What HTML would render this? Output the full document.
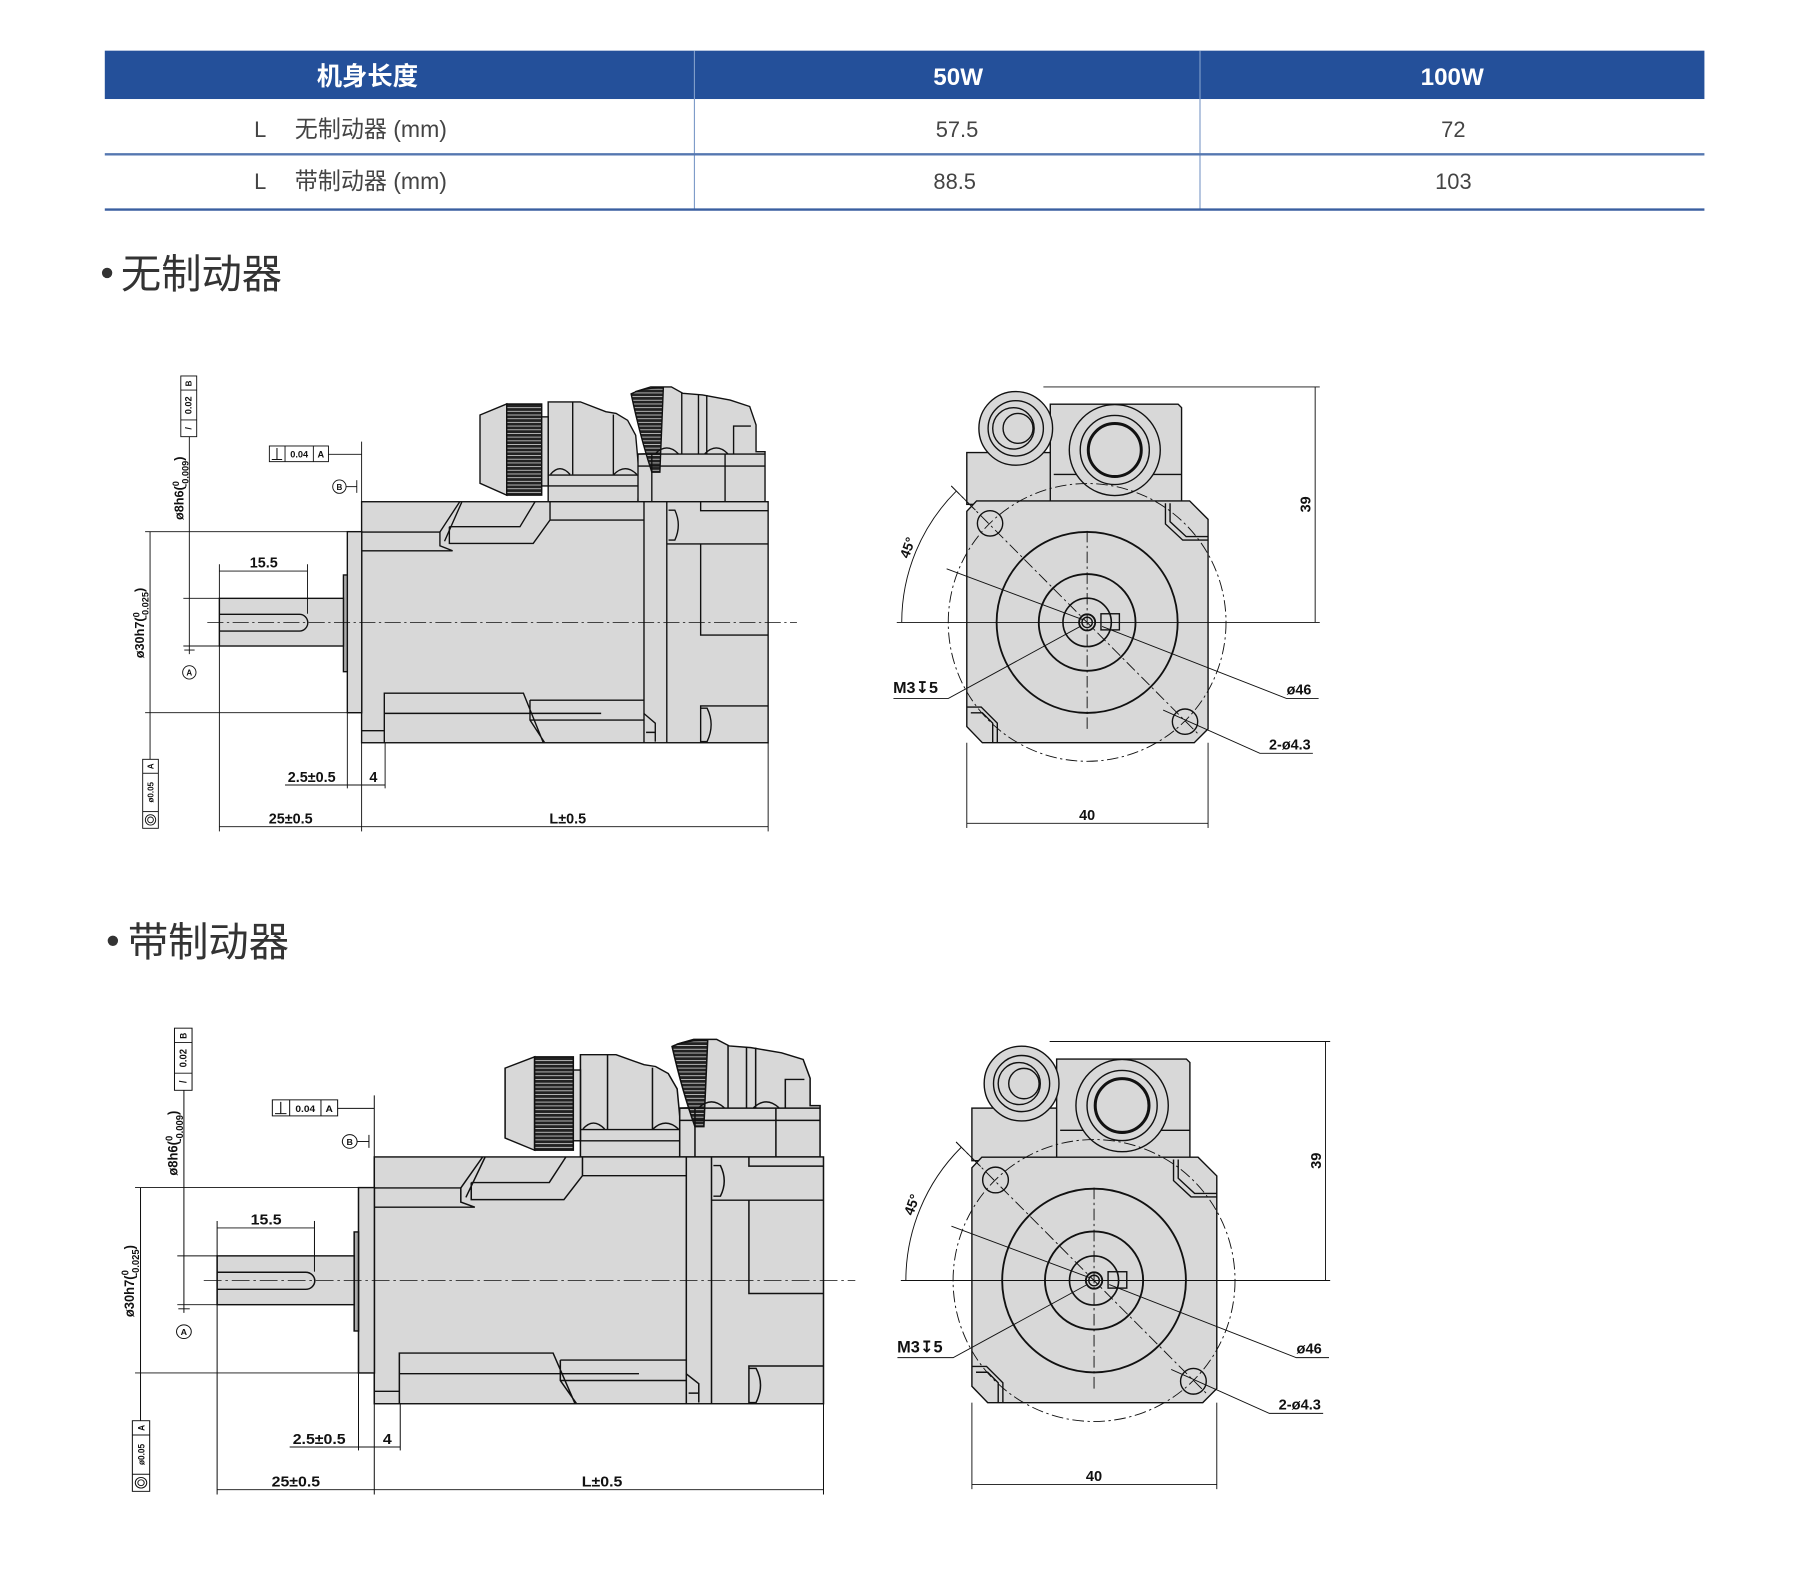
<!DOCTYPE html>
<html><head><meta charset="utf-8">
<style>
html,body{margin:0;padding:0;background:#fff;}
svg{display:block;}
.t{font-family:"Liberation Sans Narrow","Liberation Sans","DejaVu Sans",sans-serif;font-weight:bold;fill:#111;stroke:none;}
</style></head>
<body>
<svg width="1800" height="1573" viewBox="0 0 1563 1366" preserveAspectRatio="none" xmlns="http://www.w3.org/2000/svg">
<defs>
<pattern id="gear" width="6" height="3.2" patternUnits="userSpaceOnUse">
<rect width="6" height="3.2" fill="#222"/><rect y="1.6" width="6" height="0.8" fill="#bbb"/>
</pattern>

<g id="side" stroke="#111" stroke-width="1.2" fill="none">
 <polygon points="476,435.7 476,349 504,349 526,357.5 535,359 545,365 552,378 555,412 554,435.7" fill="#d8d8d8"/>
 <polygon points="554,435.7 554,394.3 563,394 555,362 550,350 552,340 565,336 583,336 593,341.6 610,343 634,347.4 651,353 656.5,369 656.5,392.2 664.3,392.2 664.3,435.7" fill="#d8d8d8"/>
 <polygon points="416.8,360.4 440,350.8 440,430 416.8,419.7" fill="#d8d8d8"/>
 <rect x="440" y="350.8" width="30.4" height="79.2" fill="url(#gear)"/>
 <rect x="470.4" y="362" width="5.6" height="60" fill="#d8d8d8"/>
 <path d="M548 342 Q560 336 576 337 L573 410 L566 410 Q556 380 548 342 Z" fill="url(#gear)"/>
 <line x1="476" y1="412.5" x2="554" y2="412.5"/>
 <line x1="476" y1="422" x2="554" y2="422"/>
 <line x1="554" y1="394.3" x2="664.3" y2="394.3"/>
 <line x1="554" y1="404.7" x2="664.3" y2="404.7"/>
 <line x1="566" y1="394" x2="566" y2="435.7"/>
 <line x1="629.6" y1="394" x2="629.6" y2="435.7"/>
 <line x1="497.3" y1="349" x2="497.3" y2="412"/>
 <line x1="532.6" y1="360" x2="532.6" y2="412"/>
 <line x1="592" y1="341" x2="592" y2="394"/>
 <line x1="606.5" y1="343" x2="606.5" y2="394"/>
 <line x1="613.7" y1="343" x2="613.7" y2="394"/>
 <path d="M637 394 V370 H652"/>
 <path d="M478 412 Q486 402 495 412 M533 412 Q543 402 553 412 M569 394 Q579 384 589 394 M612 394 Q622 384 632 394"/>
 <rect x="314" y="435.7" width="353" height="209.3" fill="#d8d8d8"/>
 <rect x="301.6" y="461.7" width="12.5" height="157.2" fill="#d8d8d8"/>
 <rect x="298.2" y="499.3" width="3.4" height="84" fill="#aaa"/>
 <rect x="190.5" y="519.6" width="107.7" height="41.4" fill="#d8d8d8"/>
 <path d="M190.5 533.5 H260 A7.25 7.25 0 0 1 260 548 H190.5"/>
 <line x1="559.2" y1="435.7" x2="559.2" y2="645"/>
 <line x1="579" y1="435.7" x2="579" y2="645"/>
 <path d="M608.4 435.7 V443.5 H667"/>
 <path d="M579 472.4 H667 M608.4 472.4 V551.5 H667 M667 613 H608.4 V645"/>
 <path d="M580.5 443 H586 Q592 456 586 469 H580.5"/>
 <path d="M608.5 615 H614 Q621 629 614 644 H608.5"/>
 <path d="M314 462 H382 V474 L393 478.3 H314"/>
 <path d="M382 462 L399 436 M386 470 L401 436"/>
 <path d="M390.2 457.4 H451.5 L464.6 435.7 M390.2 457.4 V471.9 H463 L477.6 451.6 V435.7 M477.6 451.6 H559"/>
 <path d="M333.7 645 V602 H454.5 L471.8 645 M333.7 619.5 H522 M314 634.5 H333.7 M460.2 608 H559 M460.2 608 V625.3 L473 645 M460.2 625.3 H559"/>
 <path d="M559 619.5 L569 628 V644 M561 636 H569"/>
 <line x1="180" y1="540.5" x2="692" y2="540.5" stroke-width="0.7" stroke-dasharray="14 3 2 3"/>
 <g stroke-width="0.8">
  <line x1="130.3" y1="461.7" x2="130.3" y2="659.4"/>
  <line x1="126" y1="461.7" x2="301.6" y2="461.7"/>
  <line x1="126" y1="618.9" x2="314" y2="618.9"/>
  <line x1="164.4" y1="379.2" x2="164.4" y2="568"/>
  <line x1="160" y1="564.5" x2="169" y2="564.5"/>
  <line x1="159.2" y1="519.6" x2="190.5" y2="519.6"/>
  <line x1="159.2" y1="561" x2="190.5" y2="561"/>
  <circle cx="164.4" cy="583.9" r="5.8"/>
  <line x1="190.5" y1="490" x2="190.5" y2="722"/>
  <line x1="267" y1="490" x2="267" y2="533"/>
  <line x1="190.5" y1="495.9" x2="267" y2="495.9"/>
  <line x1="285.2" y1="394.5" x2="314" y2="394.5"/>
  <line x1="314" y1="383.5" x2="314" y2="435.7"/>
  <line x1="314" y1="645" x2="314" y2="722"/>
  <circle cx="294.7" cy="422.6" r="5.8"/>
  <line x1="300.5" y1="422.6" x2="309.8" y2="422.6"/>
  <line x1="309.8" y1="417" x2="309.8" y2="428"/>
  <line x1="301.6" y1="618.9" x2="301.6" y2="684.6"/>
  <line x1="334.4" y1="645" x2="334.4" y2="684.6"/>
  <line x1="247.5" y1="681.7" x2="334.4" y2="681.7"/>
  <line x1="190.5" y1="717.9" x2="667" y2="717.9"/>
  <line x1="667" y1="645" x2="667" y2="722"/>
  <rect x="157" y="326.5" width="13.8" height="52.7" fill="#fff"/>
  <line x1="157" y1="338.7" x2="170.8" y2="338.7"/><line x1="157" y1="364.7" x2="170.8" y2="364.7"/>
  <rect x="233.9" y="387.3" width="51.3" height="13.6" fill="#fff"/>
  <line x1="247.5" y1="387.3" x2="247.5" y2="400.9"/><line x1="272.1" y1="387.3" x2="272.1" y2="400.9"/>
  <rect x="123.9" y="659.4" width="13.6" height="59.9" fill="#fff"/>
  <line x1="123.9" y1="671.5" x2="137.5" y2="671.5"/><line x1="123.9" y1="704.8" x2="137.5" y2="704.8"/>
  <circle cx="130.7" cy="712" r="4.5"/><circle cx="130.7" cy="712" r="2.5"/>
 </g>
 <path d="M236 399 H245 M240.5 389 V399" stroke-width="0.9"/>
 <g class="t" font-size="9">
  <text x="259.8" y="397.5" text-anchor="middle" font-size="8">0.04</text>
  <text x="278.6" y="397.5" text-anchor="middle" font-size="8">A</text>
  <text x="294.7" y="425.5" text-anchor="middle" font-size="7">B</text>
  <text x="164.4" y="586.8" text-anchor="middle" font-size="7">A</text>
  <text transform="translate(166.5,333) rotate(-90)" text-anchor="middle" font-size="7">B</text>
  <text transform="translate(166.5,352) rotate(-90)" text-anchor="middle" font-size="8">0.02</text>
  <text transform="translate(166.5,372) rotate(-90)" text-anchor="middle" font-size="8">/</text>
  <text transform="translate(133.5,665.5) rotate(-90)" text-anchor="middle" font-size="7">A</text>
  <text transform="translate(133.5,688) rotate(-90)" text-anchor="middle" font-size="7">ø0.05</text>
 </g>
 <g class="t" font-size="12.5">
  <text x="229" y="493" text-anchor="middle">15.5</text>
  <text x="270.7" y="679" text-anchor="middle">2.5±0.5</text>
  <text x="324.2" y="679" text-anchor="middle">4</text>
  <text x="252.4" y="715" text-anchor="middle">25±0.5</text>
  <text x="493" y="715" text-anchor="middle">L±0.5</text>
  <text transform="translate(159.5,424) rotate(-90)" text-anchor="middle" font-size="11">ø8h6(<tspan font-size="8" dy="-4">0</tspan><tspan font-size="8" dx="-5" dy="8">-0.009</tspan><tspan dy="-4">)</tspan></text>
  <text transform="translate(125,541) rotate(-90)" text-anchor="middle" font-size="11">ø30h7(<tspan font-size="8" dy="-4">0</tspan><tspan font-size="8" dx="-5" dy="8">-0.025</tspan><tspan dy="-4">)</tspan></text>
 </g>
</g>

<g id="endv" stroke="#111" stroke-width="1.2" fill="none">
 <rect x="839.5" y="393" width="76" height="45" fill="#d8d8d8"/>
 <path d="M912 438 V351 H1023 L1026 354 V438 Z" fill="#d8d8d8"/>
 <line x1="915" y1="412" x2="1026" y2="412"/>
 <circle cx="882" cy="372" r="32" fill="#d8d8d8"/>
 <circle cx="882" cy="372" r="24"/>
 <circle cx="880" cy="372" r="18"/>
 <circle cx="884" cy="372" r="13"/>
 <circle cx="968" cy="390.8" r="39.5" fill="#d8d8d8"/>
 <circle cx="968" cy="390.8" r="30"/>
 <circle cx="968" cy="390.8" r="23" stroke-width="2.6"/>
 <path d="M848 435 H1033 L1049 451 V633 L1037 645 H853 L839.5 631 V444 Z" fill="#d8d8d8"/>
 <path d="M1012 437 V455 L1027 469 H1049 M1016 437 V453 L1030 466 H1049"/>
 <path d="M840 614 H852 L866 628 V645 M843 619 H853 L862 628 V645"/>
 <circle cx="944" cy="540.5" r="78.6" stroke-width="1.6"/>
 <circle cx="944" cy="540.5" r="42" stroke-width="1.6"/>
 <circle cx="944" cy="540.5" r="21" stroke-width="1.4"/>
 <circle cx="944" cy="540.5" r="7" stroke-width="1.6"/>
 <circle cx="944" cy="540.5" r="4.5"/>
 <rect x="956" y="533" width="16" height="14"/>
 <circle cx="944" cy="540.5" r="120.6" stroke-width="0.8" stroke-dasharray="10 3 2 3"/>
 <circle cx="859.7" cy="454.5" r="11"/>
 <circle cx="1029" cy="626.7" r="11"/>
 <g stroke-width="0.8">
  <line x1="778.7" y1="540.5" x2="1146" y2="540.5"/>
  <line x1="944" y1="461" x2="944" y2="635" stroke-dasharray="10 3 2 3"/>
  <line x1="826" y1="422" x2="1040" y2="637" stroke-dasharray="10 3 2 3"/>
  <line x1="826" y1="422" x2="847" y2="443"/>
  <path d="M783 540.5 A161 161 0 0 1 830.2 426.7"/>
  <line x1="822" y1="494" x2="940" y2="538"/>
  <path d="M775.8 606.5 H823.5 L938 544"/>
  <path d="M1145 606.5 H1117 L957 544"/>
  <path d="M1140 654.2 H1094 L1010 616.6"/>
  <line x1="906" y1="336" x2="1146" y2="336"/>
  <line x1="1142" y1="336" x2="1142" y2="540.5"/>
  <line x1="839.5" y1="645" x2="839.5" y2="719"/>
  <line x1="1049" y1="645" x2="1049" y2="719"/>
  <line x1="839.5" y1="715" x2="1049" y2="715"/>
 </g>
 <g class="t" font-size="12.5">
  <text x="944" y="712" text-anchor="middle">40</text>
  <text transform="translate(1138,438) rotate(-90)" text-anchor="middle">39</text>
  <text x="1128" y="603" text-anchor="middle">ø46</text>
  <text x="1120" y="651" text-anchor="middle">2-ø4.3</text>
  <text x="795" y="602" text-anchor="middle" font-size="14">M3↧5</text>
  <text transform="translate(792,477) rotate(-70)" text-anchor="middle" font-size="12">45°</text>
 </g>
</g>
</defs>

<rect x="91" y="44" width="1389" height="42" fill="#24509a"/>
<line x1="603" y1="44" x2="603" y2="182" stroke="#7f9cc9" stroke-width="1"/>
<line x1="1042" y1="44" x2="1042" y2="182" stroke="#7f9cc9" stroke-width="1"/>
<line x1="91" y1="134" x2="1480" y2="134" stroke="#5577b0" stroke-width="2"/>
<line x1="91" y1="182" x2="1480" y2="182" stroke="#3a5fa0" stroke-width="2"/>
<g font-family="'Liberation Sans','Noto Sans CJK SC',sans-serif" text-anchor="middle">
 <text x="319" y="74" font-size="22" font-weight="bold" fill="#fff">机身长度</text>
 <text x="832" y="74" font-size="21" font-weight="bold" fill="#fff">50W</text>
 <text x="1261" y="74" font-size="21" font-weight="bold" fill="#fff">100W</text>
 <text x="831" y="119" font-size="19" fill="#444">57.5</text>
 <text x="1262" y="119" font-size="19" fill="#444">72</text>
 <text x="829" y="164" font-size="19" fill="#444">88.5</text>
 <text x="1262" y="164" font-size="19" fill="#444">103</text>
 <text x="226" y="119" font-size="19" fill="#444">L</text>
 <text x="226" y="164" font-size="19" fill="#444">L</text>
 <text x="256" y="119" font-size="20" fill="#444" text-anchor="start">无制动器 (mm)</text>
 <text x="256" y="164" font-size="20" fill="#444" text-anchor="start">带制动器 (mm)</text>
</g>

<circle cx="93" cy="237" r="4.5" fill="#333"/>
<text x="105" y="250" font-family="'Liberation Sans','Noto Sans CJK SC',sans-serif" font-size="35" fill="#333">无制动器</text>
<circle cx="98" cy="817" r="4.5" fill="#333"/>
<text x="111" y="830" font-family="'Liberation Sans','Noto Sans CJK SC',sans-serif" font-size="35" fill="#333">带制动器</text>

<use href="#side"/>
<use href="#endv"/>
<use href="#side" transform="translate(325,1112) scale(1.105,1.024) translate(-314,-540.5)"/>
<use href="#endv" transform="translate(950,1112) scale(1.015) translate(-944,-540.5)"/>
</svg>
</body></html>
